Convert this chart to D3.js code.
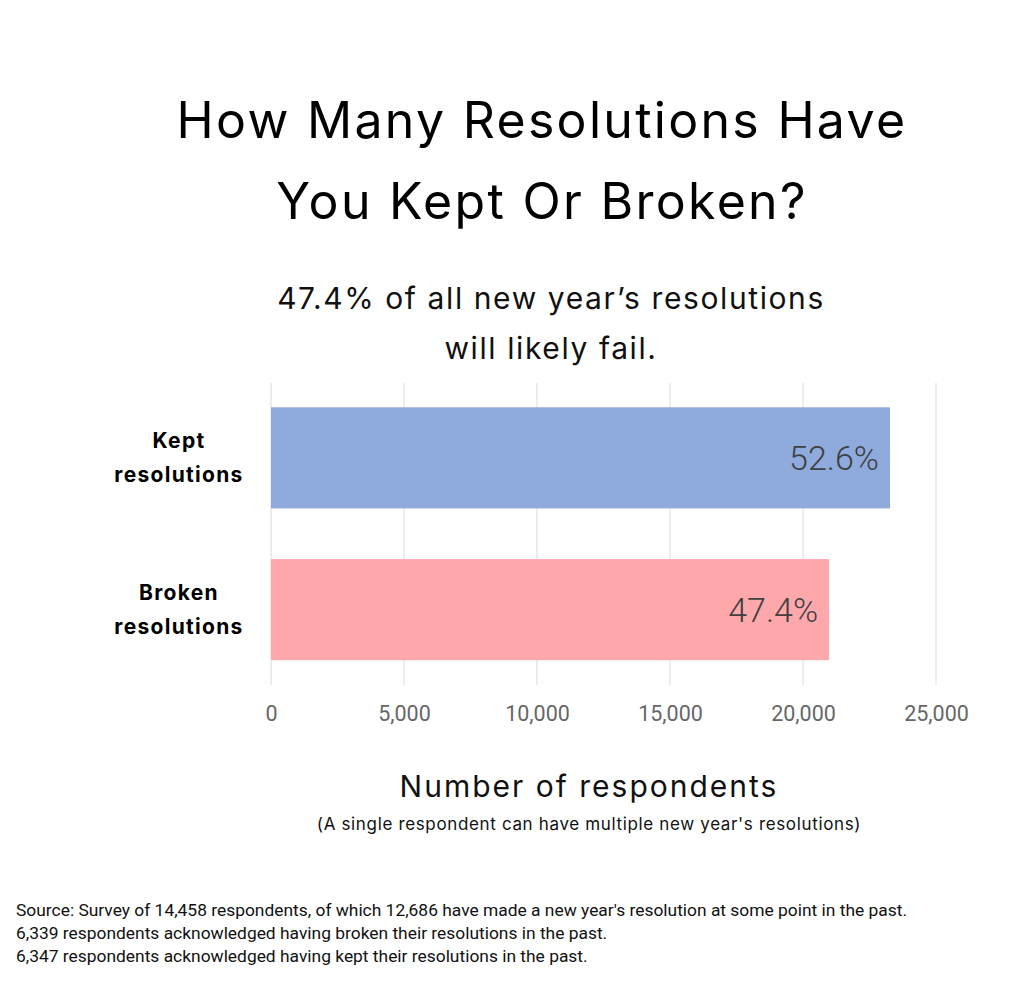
<!DOCTYPE html>
<html><head><meta charset="utf-8">
<script src="https://cdn.jsdelivr.net/npm/d3@7"></script>
<style>body{margin:0;background:#fff}svg{display:block}</style>
</head><body>
<script>
const categories = ["Kept resolutions", "Broken resolutions"];
const categoryLines = [["Kept", "resolutions"], ["Broken", "resolutions"]];
const values = [23270, 20980];
const valueLabels = ["52.6%", "47.4%"];
const colors = ["#8faadc", "#ffa8ab"];
const tickValues = [0, 5000, 10000, 15000, 20000, 25000];
const titleLines = ["How Many Resolutions Have", "You Kept Or Broken?"];
const subtitleLines = ["47.4% of all new year\u2019s resolutions", "will likely fail."];
const axisTitle = "Number of respondents";
const axisNote = "(A single respondent can have multiple new year's resolutions)";
const footer = [
  "Source: Survey of 14,458 respondents, of which 12,686 have made a new year's resolution at some point in the past.",
  "6,339 respondents acknowledged having broken their resolutions in the past.",
  "6,347 respondents acknowledged having kept their resolutions in the past."
];

const W = 1024, H = 993;
const svg = d3.select("body").append("svg").attr("width", W).attr("height", H);
const geo = "Inter, 'Noto Sans', sans-serif";

svg.selectAll("text.title").data(titleLines).join("text")
  .attr("class", "title")
  .attr("x", 542).attr("y", (d, i) => 138 + i * 81)
  .attr("text-anchor", "middle")
  .style("font-family", geo).style("font-size", "50px").style("font-weight", 400)
  .style("letter-spacing", "2.3px")
  .attr("fill", "#000").text(d => d);

svg.selectAll("text.sub").data(subtitleLines).join("text")
  .attr("class", "sub")
  .attr("x", 551).attr("y", (d, i) => 309 + i * 50)
  .attr("text-anchor", "middle")
  .style("font-family", geo).style("font-size", "30px").style("font-weight", 400)
  .style("letter-spacing", "1.6px")
  .attr("fill", "#111").text(d => d);

const x = d3.scaleLinear().domain([0, 25000]).range([271, 936]);
const y = d3.scaleBand().domain(categories).range([383, 684.5]).paddingInner(0.334).paddingOuter(0.16);

// gridlines
svg.append("g").selectAll("line").data(tickValues).join("line")
  .attr("x1", d => x(d)).attr("x2", d => x(d))
  .attr("y1", 383).attr("y2", 685)
  .attr("stroke", "#e3e3e3").attr("stroke-width", 1.3);

// bars
svg.append("g").selectAll("rect").data(categories).join("rect")
  .attr("x", x(0)).attr("y", d => y(d))
  .attr("width", (d, i) => x(values[i]) - x(0))
  .attr("height", y.bandwidth())
  .attr("fill", (d, i) => colors[i]);

// value labels
svg.append("g").selectAll("text").data(categories).join("text")
  .attr("x", (d, i) => x(values[i]) - 11)
  .attr("y", d => y(d) + y.bandwidth() / 2 + 12.5)
  .attr("text-anchor", "end")
  .style("font-family", "Roboto, sans-serif").style("font-size", "34px").style("font-weight", 300)
  .attr("fill", "#404040").text((d, i) => valueLabels[i]);

// category labels
const cat = svg.append("g").selectAll("text").data(categories).join("text")
  .attr("text-anchor", "middle")
  .style("font-family", geo).style("font-size", "21px").style("font-weight", 700)
  .style("letter-spacing", "1.3px")
  .attr("fill", "#000");
cat.each(function (d, i) {
  const c = y(d) + y.bandwidth() / 2;
  d3.select(this).selectAll("tspan").data(categoryLines[i]).join("tspan")
    .attr("x", 179).attr("y", (t, j) => c - 9.5 + j * 34).text(t => t);
});

// x axis
const xAxis = d3.axisBottom(x).tickValues(tickValues).tickSize(0).tickPadding(0)
  .tickFormat(d3.format(","));
const gx = svg.append("g").attr("transform", "translate(0,721)").call(xAxis);
gx.select(".domain").remove();
gx.selectAll("text").attr("dy", 0)
  .style("font-family", "Roboto, sans-serif").style("font-size", "21.5px")
  .attr("fill", "#666");

svg.append("text").attr("x", 589).attr("y", 797).attr("text-anchor", "middle")
  .style("font-family", geo).style("font-size", "30px").style("font-weight", 400)
  .style("letter-spacing", "2px")
  .attr("fill", "#111").text(axisTitle);
svg.append("text").attr("x", 589).attr("y", 830).attr("text-anchor", "middle")
  .style("font-family", geo).style("font-size", "17px").style("font-weight", 400)
  .style("letter-spacing", "0.65px")
  .attr("fill", "#111").text(axisNote);

svg.append("g").selectAll("text").data(footer).join("text")
  .attr("x", 16).attr("y", (d, i) => 916 + i * 23)
  .style("font-family", "Roboto, sans-serif").style("font-size", "17.4px")
  .attr("fill", "#111").text(d => d);
</script>
</body></html>
